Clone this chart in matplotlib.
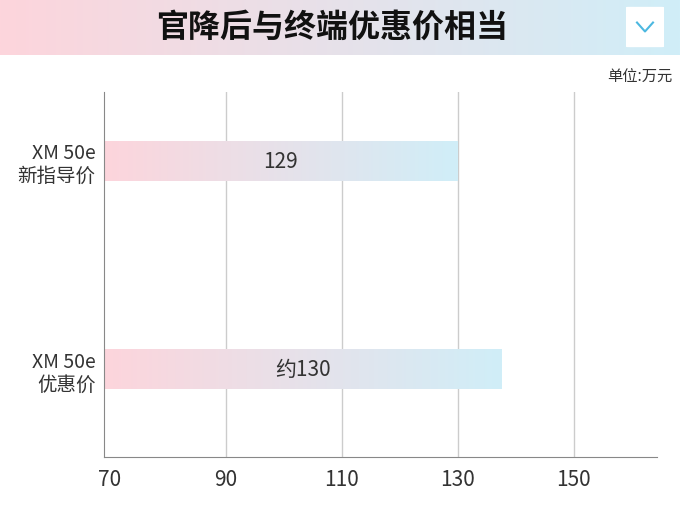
import numpy as np
import matplotlib.pyplot as plt
from matplotlib.colors import LinearSegmentedColormap
from matplotlib.patches import FancyBboxPatch

plt.rcParams['font.family'] = ['Noto Sans CJK SC', 'DejaVu Sans']

categories = ['XM 50e\n新指导价', 'XM 50e\n优惠价']
bar_ends = [130, 137.5]
bar_labels = ['129', '约130']
ticks = [70, 90, 110, 130, 150]
title = '官降后与终端优惠价相当'
unit = '单位:万元'

cmap = LinearSegmentedColormap.from_list('pb', ['#fdd5dc', '#d0eef8'])
grad = np.linspace(0, 1, 256).reshape(1, -1)

fig = plt.figure(figsize=(6.8, 5.1), dpi=100)

# title band
tax = fig.add_axes([0, 1 - 56/510, 1, 56/510])
tax.imshow(grad, aspect='auto', cmap=cmap, extent=[0, 1, 0, 1])
tax.set_xlim(0, 1); tax.set_ylim(0, 1); tax.axis('off')
tax.text(332/680, 0.5, title, ha='center', va='center', fontsize=23, fontweight='heavy', color='#111111')
tax.add_patch(FancyBboxPatch((626/680, 0.14), 38/680, 0.72, boxstyle='round,pad=0,rounding_size=0.005',
                             facecolor='white', edgecolor='none'))
tax.plot([637/680, 645/680, 653/680], [0.58, 0.42, 0.58], color='#4cb8e0', lw=1.5)

fig.text(672/680, 1 - 77/510, unit, ha='right', va='center', fontsize=11, color='#333333')

ax = fig.add_axes([104/680, 1 - 458/510, (657-104)/680, (458-93)/510])
x0 = 69
h = 0.19
for i, (e, lab) in enumerate(zip(bar_ends, bar_labels)):
    ax.imshow(grad, aspect='auto', cmap=cmap, extent=[x0, e, i + h/2, i - h/2], zorder=2)
    ax.text((x0 + e) / 2, i, lab, ha='center', va='center', fontsize=15, fontweight='light',
            color='#333333', zorder=3)
ax.set_xlim(x0, x0 + (657-104)/5.8)
ax.set_ylim(1.42, -0.33)
ax.set_xticks(ticks)
ax.set_xticklabels([str(t) for t in ticks], fontsize=15, fontweight='light', color='#333333')
ax.set_yticks(range(len(categories)))
ax.set_yticklabels(categories, fontsize=14, fontweight='light', color='#333333', linespacing=1.1)
ax.tick_params(axis='x', length=0, pad=8)
ax.tick_params(axis='y', length=0, pad=6)
for t in ticks[1:]:
    ax.axvline(t, color='#cccccc', lw=1, zorder=1)
for s in ['top', 'right']:
    ax.spines[s].set_visible(False)
for s in ['left', 'bottom']:
    ax.spines[s].set_color('#888888')

fig.savefig('out.png', dpi=100)
